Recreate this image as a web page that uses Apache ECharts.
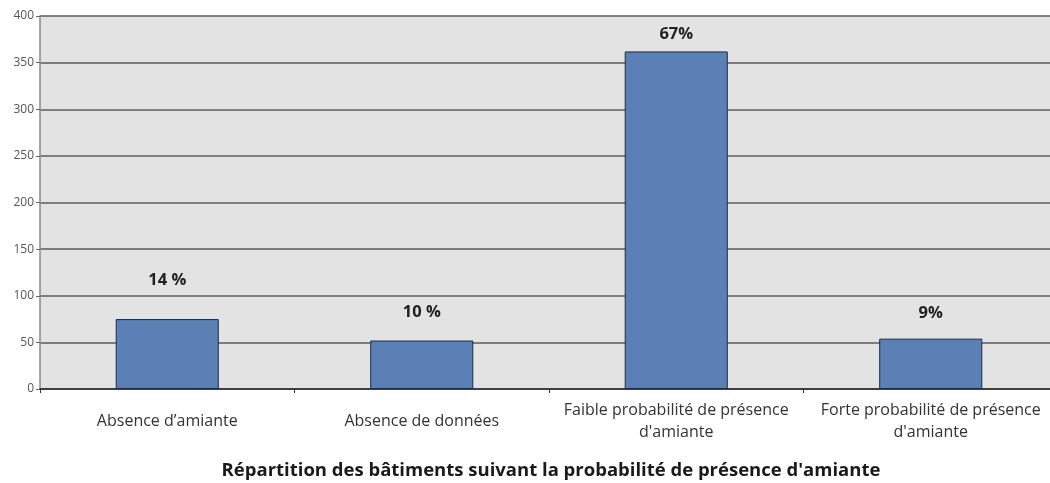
<!DOCTYPE html>
<html>
<head>
<meta charset="utf-8">
<script src="https://cdn.jsdelivr.net/npm/echarts@6/dist/echarts.min.js"></script>
<style>
  html, body { margin: 0; padding: 0; background: #fff; overflow: hidden; }
  /* the plot runs past the right edge in the original, so the canvas is a bit wider than the window */
  #chart { width: 1058px; height: 483px; }
</style>
</head>
<body>
<div id="chart"></div>
<script>
// catégories et valeurs
const categories = [
  "Absence d’amiante",
  'Absence de données',
  'Faible probabilité de présence\nd\'amiante',
  'Forte probabilité de présence\nd\'amiante'
]
const values = [75, 52, 362, 54]
const percentLabels = ['14 %', '10 %', '67%', '9%']
const yTicks = [0, 50, 100, 150, 200, 250, 300, 350, 400]
const titleText = "Répartition des bâtiments suivant la probabilité de présence d'amiante"

// écart étiquette / haut de barre (style seulement)
const labelGaps = [30, 20, 9, 17]

const chart = echarts.init(document.getElementById('chart'))

chart.setOption({
  animation: false,
  backgroundColor: '#fff',
  title: {
    text: titleText,
    left: 546,
    textAlign: 'center',
    top: 456,
    textStyle: { fontFamily: 'Open Sans', fontSize: 18.5, fontWeight: 'bold', color: '#1a1a1a' }
  },
  grid: {
    left: 40, top: 16, bottom: 94, right: 0,
    show: true, backgroundColor: '#e3e3e3', borderWidth: 0
  },
  xAxis: {
    type: 'category',
    data: categories,
    axisLine: { lineStyle: { color: '#2a2a2a', width: 1.5 } },
    axisTick: { show: true, length: 4, lineStyle: { color: '#333' } },
    axisLabel: {
      margin: 32, fontFamily: 'Open Sans', fontSize: 16, color: '#333', lineHeight: 22,
      verticalAlign: 'middle', interval: 0
    }
  },
  yAxis: {
    type: 'value',
    min: yTicks[0], max: yTicks[yTicks.length - 1], interval: 50,
    axisLine: { show: true, lineStyle: { color: '#8a8a8a', width: 1.5 } },
    axisTick: { show: true, length: 4, lineStyle: { color: '#666' } },
    axisLabel: { margin: 6, fontFamily: 'Open Sans', fontSize: 12, color: '#555' },
    splitLine: { lineStyle: { color: '#5c5c5c', width: 1.5 } }
  },
  series: [{
    type: 'bar',
    barWidth: '40.5%',
    data: values.map((v, i) => ({
      value: v,
      label: { distance: labelGaps[i], formatter: percentLabels[i] }
    })),
    itemStyle: { color: '#5b80b6', borderColor: '#1c2c46', borderWidth: 1 },
    label: {
      show: true, position: 'top',
      fontFamily: 'Open Sans', fontSize: 16.5, fontWeight: 'bold', color: '#222'
    }
  }]
})
</script>
</body>
</html>
